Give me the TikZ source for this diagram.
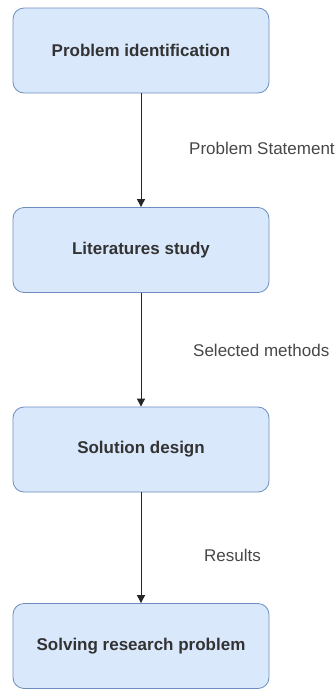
\documentclass[tikz,border=0pt]{standalone}
\usepackage{fontspec}
\setmainfont{Liberation Sans}
\usetikzlibrary{arrows.meta}
\definecolor{boxfill}{HTML}{DAE8FC}
\definecolor{boxline}{HTML}{6C8EBF}
\definecolor{labtext}{HTML}{333333}
\begin{document}
\begin{tikzpicture}[x=1pt,y=1pt,
  stepbox/.style={draw=boxline, fill=boxfill, rounded corners=11pt, line width=0.8pt,
    minimum width=256pt, minimum height=85pt, inner sep=0pt,
    font=\fontsize{17}{20}\selectfont\bfseries, text=labtext},
  flow/.style={draw=black!85, line width=0.9pt, -{Triangle[length=8pt,width=8pt]}},
  lab/.style={font=\fontsize{17}{20}\selectfont, text=labtext!90, anchor=west, inner sep=0pt}]
\useasboundingbox (0,0) rectangle (335,-691);
\node[stepbox] (a) at (141,-50.5) {Problem identification};
\node[stepbox] (b) at (141,-250) {Literatures study};
\node[stepbox] (c) at (141,-449.5) {Solution design};
\node[stepbox] (d) at (141,-646) {Solving research problem};
\draw[flow] (a) -- (b);
\draw[flow] (b) -- (c);
\draw[flow] (c) -- (d);
\node[lab] (la) at (189,-148) {Problem Statement};
\node[lab] (lb) at (193,-350) {Selected methods};
\node[lab] (lc) at (204,-555) {Results};
\end{tikzpicture}
\end{document}
